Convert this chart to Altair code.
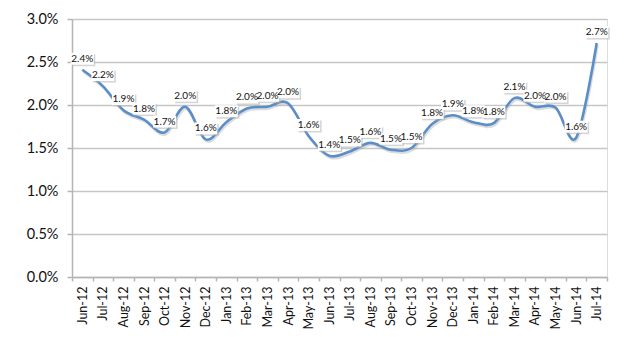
import altair as alt
import pandas as pd

months = ["Jun-12", "Jul-12", "Aug-12", "Sep-12", "Oct-12", "Nov-12", "Dec-12",
          "Jan-13", "Feb-13", "Mar-13", "Apr-13", "May-13", "Jun-13", "Jul-13",
          "Aug-13", "Sep-13", "Oct-13", "Nov-13", "Dec-13", "Jan-14", "Feb-14",
          "Mar-14", "Apr-14", "May-14", "Jun-14", "Jul-14"]
rate_pct = [2.41, 2.22, 1.94, 1.83, 1.68, 1.98, 1.60, 1.80, 1.96, 1.98, 2.02,
            1.64, 1.41, 1.46, 1.56, 1.48, 1.50, 1.78, 1.88, 1.80, 1.79, 2.08,
            1.98, 1.97, 1.62, 2.72]
y_ticks = [0.0, 0.005, 0.01, 0.015, 0.02, 0.025, 0.03]

df = pd.DataFrame({"month": months, "rate": [v / 100 for v in rate_pct]})

FONT = "Lato"
x_enc = alt.X("month:N", sort=months, title=None,
              scale=alt.Scale(paddingInner=0, paddingOuter=0),
              axis=alt.Axis(labelAngle=-90, labelFontSize=12.5, labelFont=FONT,
                            labelColor="#111111", labelPadding=5,
                            tickBand="extent", tickSize=4, tickColor="#b5b5b5",
                            domainColor="#b5b5b5", domainWidth=1.5, tickWidth=1.5,
                            grid=False, labelBaseline="middle"))
y_enc = alt.Y("rate:Q", title=None,
              scale=alt.Scale(domain=[0, 0.03], nice=False),
              axis=alt.Axis(values=y_ticks, format=".1%", labelFontSize=14.5,
                            labelFont=FONT, labelColor="#111111", labelPadding=9,
                            tickSize=5, tickColor="#b5b5b5", tickWidth=1.5,
                            domainColor="#b5b5b5", domainWidth=1.5,
                            gridColor="#c6c6c6", gridWidth=1.5))

base = alt.Chart(df).encode(x=x_enc, y=y_enc)

shadow = base.mark_line(interpolate="cardinal", color="#9a9a9a", strokeWidth=2.5,
                        opacity=0.35, xOffset=1, yOffset=2)
line = base.mark_line(interpolate="cardinal", color="#5b8ec8", strokeWidth=2.6)

BOX = "M-1,-0.52H1V0.52H-1Z"
box_shadow = base.mark_point(shape=BOX, size=529, filled=True, color="#b0b0b0",
                             opacity=0.55, strokeWidth=0, xOffset=1.5, yOffset=-9.5)
box = base.mark_point(shape=BOX, size=529, filled=True, color="white",
                      opacity=1, strokeWidth=0, yOffset=-11)
labels = base.mark_text(font=FONT, fontSize=10, color="#111111", yOffset=-11,
                        baseline="middle", align="center").encode(
    text=alt.Text("rate:Q", format=".1%"))

chart = alt.layer(shadow, line, box_shadow, box, labels).properties(
    width=535, height=258,
    autosize=alt.AutoSizeParams(type="none"),
    padding={"left": 72, "top": 19, "right": 27, "bottom": 60},
).configure_view(stroke=None).configure(background="white")

chart.save("out.html", embed_options={"renderer": "svg", "actions": False})
